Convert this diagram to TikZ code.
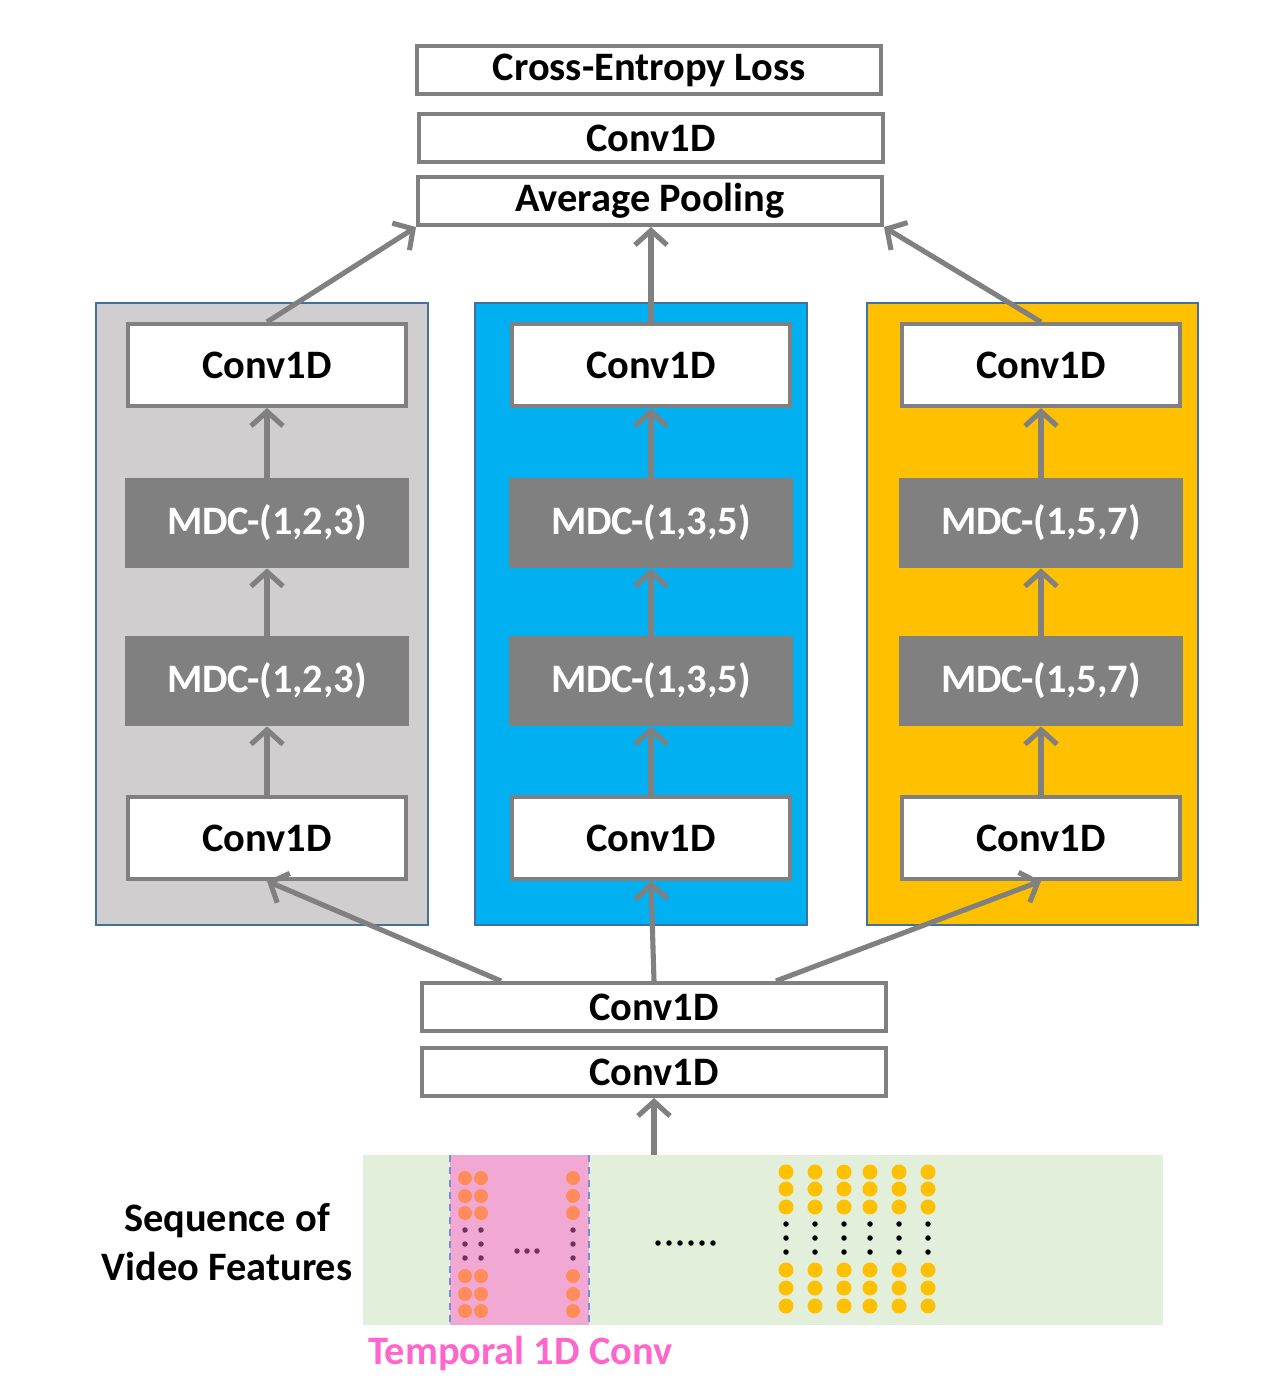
\documentclass[tikz,border=0pt]{standalone}
\usepackage{fontspec}
\setmainfont{Carlito}
\usetikzlibrary{positioning,arrows.meta}
\definecolor{boxgray}{RGB}{128,128,128}
\definecolor{panelblue}{RGB}{65,113,156}
\definecolor{panelgray}{RGB}{208,206,206}
\definecolor{panelcyan}{RGB}{0,176,240}
\definecolor{panelgold}{RGB}{255,192,0}
\definecolor{featgreen}{RGB}{226,239,218}
\definecolor{convpink}{RGB}{241,168,210}
\definecolor{dashblue}{RGB}{120,140,215}
\definecolor{dotorange}{RGB}{255,140,90}
\definecolor{dotpurple}{RGB}{112,48,96}
\definecolor{labelpink}{RGB}{255,102,204}
\tikzset{
	lbl/.style={font=\fontsize{23}{27.5}\selectfont\bfseries},
	box/.style={
		lbl, draw=boxgray, line width=2.3pt, fill=white,
		minimum width=5.56cm, minimum height=1.64cm, inner sep=0
	},
	mdc/.style={
		lbl, fill=boxgray, text=white,
		minimum width=5.68cm, minimum height=1.8cm, inner sep=0
	},
	widebox/.style={box, minimum width=9.28cm, minimum height=0.96cm},
	panel/.style={draw=panelblue, line width=1.2pt},
	flow/.style={draw=boxgray, line width=2.9pt, -{Straight Barb[length=2.9mm,width=6.4mm]}}
}

\begin{document}
\begin{tikzpicture}[x=0.02cm, y=-0.02cm]
	\useasboundingbox (0,0) rectangle (1282,1387);
	% head of the network
	\node [widebox] (loss) at (649,70) {Cross-Entropy Loss};
	\node [widebox] (headconv) at (651,138) {Conv1D};
	\node [widebox] (pool) at (650,201) {Average Pooling};
	% three branches
	\filldraw [panel, fill=panelgray] (96,303) rectangle (428,925);
	\filldraw [panel, fill=panelcyan] (475,303) rectangle (807,925);
	\filldraw [panel, fill=panelgold] (867,303) rectangle (1198,925);
	\foreach \br/\cx/\kset in {L/267/{(1,2,3)}, M/651/{(1,3,5)}, R/1041/{(1,5,7)}} {
		\node [box] (\br in) at (\cx,838) {Conv1D};
		\node [mdc] (\br mdca) at (\cx,681) {MDC-\kset};
		\node [mdc] (\br mdcb) at (\cx,523) {MDC-\kset};
		\node [box] (\br out) at (\cx,365) {Conv1D};
		\draw [flow] (\br in) -- (\br mdca);
		\draw [flow] (\br mdca) -- (\br mdcb);
		\draw [flow] (\br mdcb) -- (\br out);
	}
	\draw [flow] (Lout.north) -- (pool.south west);
	\draw [flow] (Mout.north) -- (Mout.north |- pool.south);
	\draw [flow] (Rout.north) -- (pool.south east);
	% stem
	\node [widebox] (stema) at (654,1007) {Conv1D};
	\node [widebox] (stemb) at (654,1072) {Conv1D};
	\draw [flow] ([xshift=1.62cm]stema.north west) -- (Lin.south);
	\draw [flow] (stema.north) -- (Min.south);
	\draw [flow] ([xshift=-2.24cm]stema.north east) -- (Rin.south);
	% input features
	\node [fill=featgreen, minimum width=16cm, minimum height=3.4cm, inner sep=0] (feat) at (763,1240) {};
	\fill [convpink] (450,1155) rectangle (589,1325);
	\draw [dashblue, line width=1.3pt, dash pattern=on 4pt off 3pt] (450,1155) -- (450,1325) (589,1155) -- (589,1325);
	\draw [flow] (stemb.south |- feat.north) -- (stemb.south);
	\foreach \x in {465,481,573} {
		\foreach \y in {1178,1196,1213,1276,1294,1311}
			\fill [dotorange] (\x,\y) circle [radius=0.14cm];
		\foreach \y in {1230,1244,1258}
			\fill [dotpurple] (\x,\y) circle [radius=0.055cm];
	}
	\foreach \x in {517,527,537}
		\fill [dotpurple] (\x,1251) circle [radius=0.055cm];
	\foreach \x in {658,669,680,691,702,713}
		\fill (\x,1243) circle [radius=0.055cm];
	\foreach \x in {786,815,844,870,899,928} {
		\foreach \y in {1172,1189,1207,1270,1288,1306}
			\fill [panelgold] (\x,\y) circle [radius=0.15cm];
		\foreach \y in {1224,1238,1252}
			\fill (\x,\y) circle [radius=0.055cm];
	}
	\node [lbl, align=center] (seqlabel) at (227,1242) {Sequence of\\Video Features};
	\node [lbl, text=labelpink, anchor=west, inner sep=0] (convlabel) at (368,1353) {Temporal 1D Conv};
\end{tikzpicture}
\end{document}
